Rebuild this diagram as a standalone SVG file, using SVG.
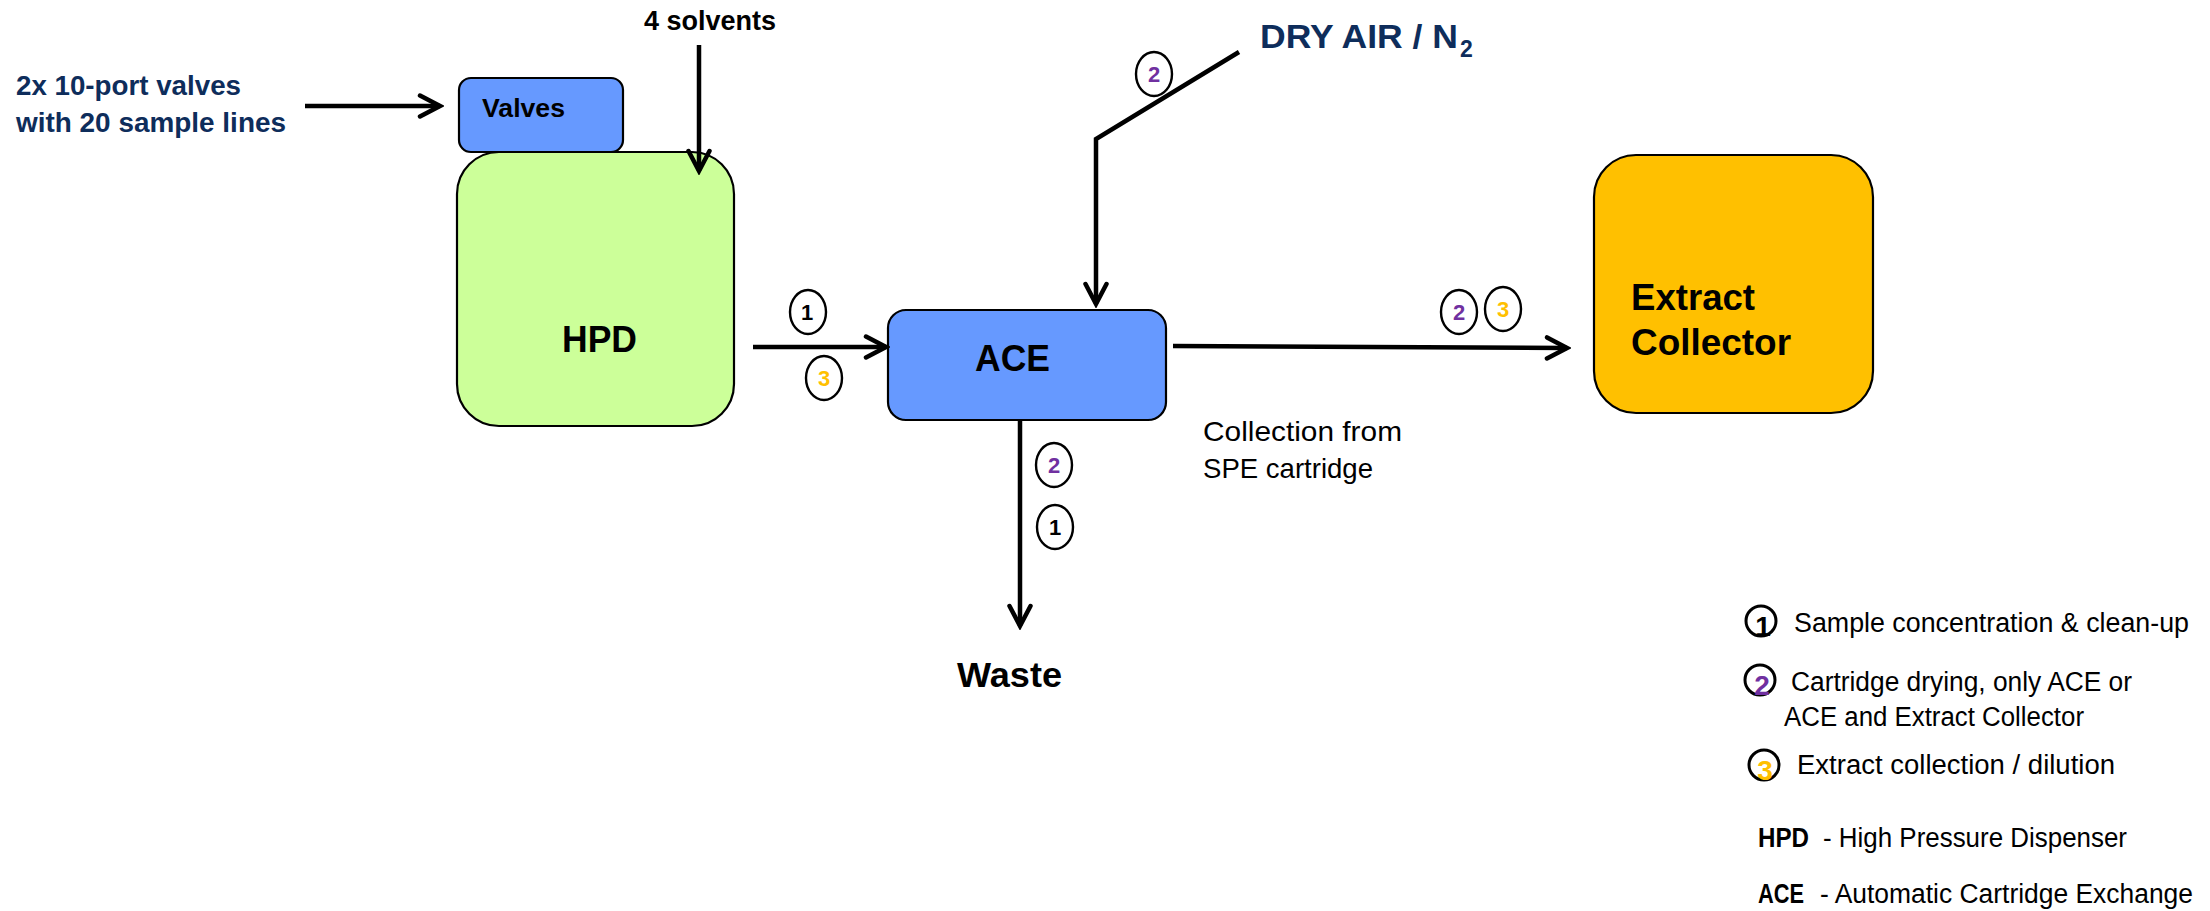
<svg xmlns="http://www.w3.org/2000/svg" width="2210" height="911" viewBox="0 0 2210 911">
<style>
.box{stroke:#000;stroke-width:2.2}
.lbl{font-family:"Liberation Sans",Arial,sans-serif;font-weight:bold;fill:#000}
.navy{font-family:"Liberation Sans",Arial,sans-serif;font-weight:bold;fill:#0e2d5b}
.txt{font-family:"Liberation Sans",Arial,sans-serif;fill:#000}
.conn{stroke:#000;stroke-width:4.5;fill:none}
.bub{fill:none;stroke:#000;stroke-width:2.4}
.lbub{fill:none;stroke:#000;stroke-width:3}
.num{font-family:"Liberation Sans",Arial,sans-serif;font-weight:bold;font-size:22px;text-anchor:middle}
.num.lg{font-size:28px}
.k{fill:#000}.p{fill:#7030a0}.y{fill:#ffc000}
</style>
<defs>
<marker id="ah" markerUnits="userSpaceOnUse" viewBox="-26 -15 30 30" refX="0" refY="0" markerWidth="30" markerHeight="30" orient="auto">
<path d="M-20,-10.5 L0,0 L-20,10.5" fill="none" stroke="#000" stroke-width="4.5" stroke-linecap="round" stroke-linejoin="miter"/>
</marker>
</defs>
<rect width="2210" height="911" fill="#fff"/>

<g id="hpd">
<rect class="box" x="457" y="152" width="277" height="274" rx="42" fill="#ccff99"/>
<text class="lbl" x="562" y="352" font-size="36" textLength="75" lengthAdjust="spacingAndGlyphs">HPD</text>
</g>
<g id="valves">
<rect class="box" x="459" y="78" width="164" height="74" rx="12" fill="#6699ff"/>
<text class="lbl" x="482" y="117" font-size="25" textLength="83" lengthAdjust="spacingAndGlyphs">Valves</text>
</g>
<g id="ace">
<rect class="box" x="888" y="310" width="278" height="110" rx="18" fill="#6699ff"/>
<text class="lbl" x="975" y="371" font-size="36" textLength="75" lengthAdjust="spacingAndGlyphs">ACE</text>
</g>
<g id="extract-collector">
<rect class="box" x="1594" y="155" width="279" height="258" rx="42" fill="#ffc000"/>
<text class="lbl" x="1631" y="310" font-size="37" textLength="124" lengthAdjust="spacingAndGlyphs">Extract</text>
<text class="lbl" x="1631" y="355" font-size="37" textLength="160" lengthAdjust="spacingAndGlyphs">Collector</text>
</g>
<g id="waste">
<text class="lbl" x="957" y="687" font-size="35" textLength="105" lengthAdjust="spacingAndGlyphs">Waste</text>
</g>
<g id="sample-lines">
<text class="navy" x="16" y="95" font-size="28" textLength="225" lengthAdjust="spacingAndGlyphs">2x 10-port valves</text>
<text class="navy" x="16" y="132" font-size="28" textLength="270" lengthAdjust="spacingAndGlyphs">with 20 sample lines</text>
</g>
<g id="solvents">
<text class="lbl" x="644" y="30" font-size="27" textLength="132" lengthAdjust="spacingAndGlyphs">4 solvents</text>
</g>
<g id="dry-air">
<text class="navy" x="1260" y="48" font-size="34" textLength="198" lengthAdjust="spacingAndGlyphs">DRY AIR / N</text>
<text class="navy" x="1460" y="57" font-size="23">2</text>
</g>
<g id="collection-note">
<text class="txt" x="1203" y="441" font-size="28" textLength="199" lengthAdjust="spacingAndGlyphs">Collection from</text>
<text class="txt" x="1203" y="478" font-size="28" textLength="170" lengthAdjust="spacingAndGlyphs">SPE cartridge</text>
</g>

<g id="connectors">
<line class="conn" x1="305" y1="106" x2="440" y2="106" marker-end="url(#ah)"/>
<line class="conn" x1="699" y1="45" x2="699" y2="171" marker-end="url(#ah)"/>
<line class="conn" x1="753" y1="347" x2="886" y2="347" marker-end="url(#ah)"/>
<polyline class="conn" points="1239,52 1096,139 1096,304" marker-end="url(#ah)"/>
<line class="conn" x1="1173" y1="346" x2="1567" y2="348" marker-end="url(#ah)"/>
<line class="conn" x1="1020" y1="420" x2="1020" y2="626" marker-end="url(#ah)"/>
</g>

<g id="step-markers">
<ellipse class="bub" cx="1154" cy="74" rx="18" ry="22"/><text class="num p" x="1154" y="82">2</text>
<ellipse class="bub" cx="808" cy="312" rx="18" ry="22"/><text class="num k" x="807" y="320">1</text>
<ellipse class="bub" cx="824" cy="378" rx="18" ry="22"/><text class="num y" x="824" y="386">3</text>
<ellipse class="bub" cx="1459" cy="312" rx="18" ry="22"/><text class="num p" x="1459" y="320">2</text>
<ellipse class="bub" cx="1503" cy="309" rx="18" ry="22"/><text class="num y" x="1503" y="317">3</text>
<ellipse class="bub" cx="1054" cy="465" rx="18" ry="22"/><text class="num p" x="1054" y="473">2</text>
<ellipse class="bub" cx="1055" cy="527" rx="18" ry="22"/><text class="num k" x="1055" y="535">1</text>
</g>

<g id="legend">
<circle class="lbub" cx="1761" cy="621" r="15"/><text class="num lg k" x="1763" y="636">1</text>
<text class="txt" x="1794" y="632" font-size="27" textLength="395" lengthAdjust="spacingAndGlyphs">Sample concentration &amp; clean-up</text>
<circle class="lbub" cx="1760" cy="680" r="15"/><text class="num lg p" x="1762" y="695">2</text>
<text class="txt" x="1791" y="691" font-size="27" textLength="341" lengthAdjust="spacingAndGlyphs">Cartridge drying, only ACE or</text>
<text class="txt" x="1784" y="726" font-size="27" textLength="300" lengthAdjust="spacingAndGlyphs">ACE and Extract Collector</text>
<circle class="lbub" cx="1764" cy="765" r="15"/><text class="num lg y" x="1765" y="780">3</text>
<text class="txt" x="1797" y="774" font-size="27" textLength="318" lengthAdjust="spacingAndGlyphs">Extract collection / dilution</text>
<text class="lbl" x="1758" y="847" font-size="27" textLength="51" lengthAdjust="spacingAndGlyphs">HPD</text>
<text class="txt" x="1823" y="847" font-size="27" textLength="304" lengthAdjust="spacingAndGlyphs">- High Pressure Dispenser</text>
<text class="lbl" x="1758" y="903" font-size="27" textLength="46" lengthAdjust="spacingAndGlyphs">ACE</text>
<text class="txt" x="1820" y="903" font-size="27" textLength="373" lengthAdjust="spacingAndGlyphs">- Automatic Cartridge Exchange</text>
</g>
</svg>
